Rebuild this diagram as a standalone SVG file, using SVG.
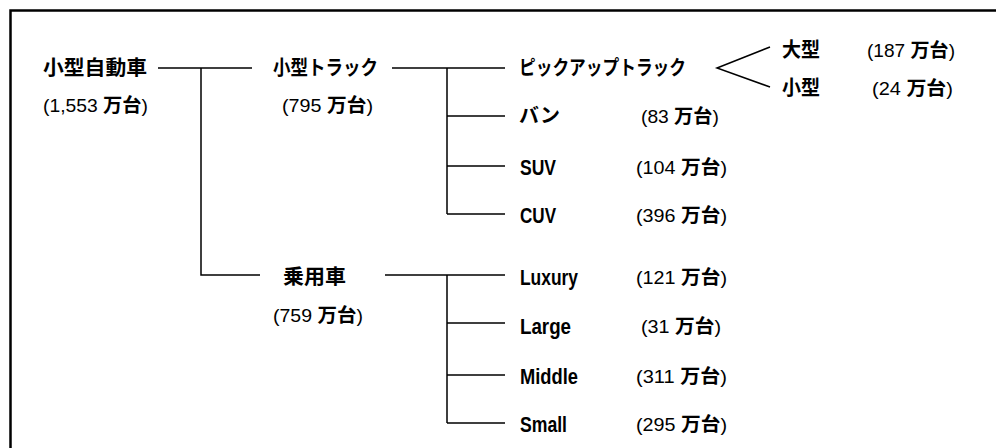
<svg xmlns="http://www.w3.org/2000/svg" width="996" height="448" viewBox="0 0 996 448">
<style>
.lbl{font-family:"Liberation Sans","Noto Sans CJK JP",sans-serif;font-weight:bold;font-size:20px;fill:#000}
.en{font-family:"Liberation Sans",sans-serif;font-weight:bold;font-size:22px;fill:#000}
.num{font-family:"Liberation Sans","Noto Sans CJK JP",sans-serif;font-size:19px;fill:#000}
.b{font-weight:bold}
.ln{stroke:#000;stroke-width:1.5;fill:none}
.frame{stroke:#000;stroke-width:2.5;fill:none}
</style>
<rect width="996" height="448" fill="#fff"/>
<path class="frame" d="M10.5,448 V10.5 H996"/>
<g id="connectors">
<path class="ln" d="M158,68 H252 M201,68 V275 H260"/>
<path class="ln" d="M392,68 H505 M447,68 V214 M447,116 H505 M447,166 H505 M447,214 H505"/>
<path class="ln" d="M385,275 H505 M447,275 V423 M447,323 H505 M447,375 H505 M447,423 H505"/>
<polyline class="ln" points="770,47 717,68 770,87"/>
</g>
<g id="n-kogata-jidosha">
<text class="lbl" x="43" y="75" textLength="104" lengthAdjust="spacingAndGlyphs">小型自動車</text>
<text class="num" x="43" y="112" textLength="105" lengthAdjust="spacingAndGlyphs">(1,553 <tspan class="b">万台</tspan>)</text>
</g>
<g id="n-kogata-truck">
<text class="lbl" x="273" y="75" textLength="105" lengthAdjust="spacingAndGlyphs">小型トラック</text>
<text class="num" x="282" y="112" textLength="91" lengthAdjust="spacingAndGlyphs">(795 <tspan class="b">万台</tspan>)</text>
</g>
<g id="n-pickup">
<text class="lbl" x="519" y="75" textLength="167" lengthAdjust="spacingAndGlyphs">ピックアップトラック</text>
</g>
<g id="n-ogata">
<text class="lbl" x="782" y="57" textLength="38" lengthAdjust="spacingAndGlyphs">大型</text>
<text class="num" x="867" y="57" textLength="88" lengthAdjust="spacingAndGlyphs">(187 <tspan class="b">万台</tspan>)</text>
</g>
<g id="n-kogata">
<text class="lbl" x="782" y="95" textLength="38" lengthAdjust="spacingAndGlyphs">小型</text>
<text class="num" x="872" y="95" textLength="81" lengthAdjust="spacingAndGlyphs">(24 <tspan class="b">万台</tspan>)</text>
</g>
<g id="n-van">
<text class="lbl" x="519" y="123" textLength="41" lengthAdjust="spacingAndGlyphs">バン</text>
<text class="num" x="641" y="123" textLength="78" lengthAdjust="spacingAndGlyphs">(83 <tspan class="b">万台</tspan>)</text>
</g>
<g id="n-suv">
<text class="en" x="520" y="175" textLength="36" lengthAdjust="spacingAndGlyphs">SUV</text>
<text class="num" x="636" y="174" textLength="91" lengthAdjust="spacingAndGlyphs">(104 <tspan class="b">万台</tspan>)</text>
</g>
<g id="n-cuv">
<text class="en" x="520" y="223" textLength="36" lengthAdjust="spacingAndGlyphs">CUV</text>
<text class="num" x="636" y="222" textLength="91" lengthAdjust="spacingAndGlyphs">(396 <tspan class="b">万台</tspan>)</text>
</g>
<g id="n-joyosha">
<text class="lbl" x="283" y="284" textLength="63" lengthAdjust="spacingAndGlyphs">乗用車</text>
<text class="num" x="273" y="322" textLength="90" lengthAdjust="spacingAndGlyphs">(759 <tspan class="b">万台</tspan>)</text>
</g>
<g id="n-luxury">
<text class="en" x="520" y="285" textLength="58" lengthAdjust="spacingAndGlyphs">Luxury</text>
<text class="num" x="636" y="284" textLength="91" lengthAdjust="spacingAndGlyphs">(121 <tspan class="b">万台</tspan>)</text>
</g>
<g id="n-large">
<text class="en" x="520" y="334" textLength="51" lengthAdjust="spacingAndGlyphs">Large</text>
<text class="num" x="641" y="333" textLength="80" lengthAdjust="spacingAndGlyphs">(31 <tspan class="b">万台</tspan>)</text>
</g>
<g id="n-middle">
<text class="en" x="520" y="384" textLength="58" lengthAdjust="spacingAndGlyphs">Middle</text>
<text class="num" x="636" y="383" textLength="91" lengthAdjust="spacingAndGlyphs">(311 <tspan class="b">万台</tspan>)</text>
</g>
<g id="n-small">
<text class="en" x="520" y="432" textLength="47" lengthAdjust="spacingAndGlyphs">Small</text>
<text class="num" x="636" y="431" textLength="91" lengthAdjust="spacingAndGlyphs">(295 <tspan class="b">万台</tspan>)</text>
</g>
</svg>
